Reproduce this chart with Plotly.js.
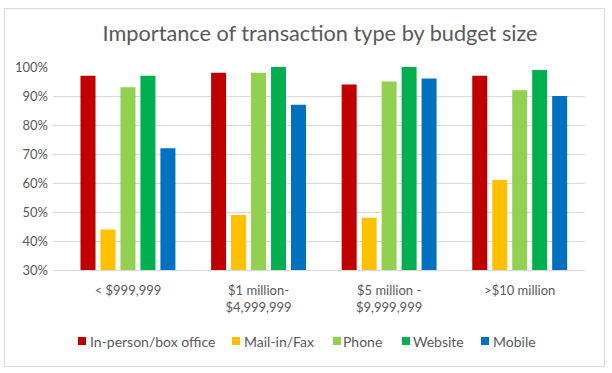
<!DOCTYPE html>
<html>
<head>
<meta charset="utf-8">
<script src="https://cdn.plot.ly/plotly-3.0.1.min.js"></script>
<style>
  html, body { margin: 0; padding: 0; background: #fff; }
  #wrap { position: relative; width: 612px; height: 373px; }
  #chart { width: 612px; height: 373px; }
  #frame { position: absolute; left: 4px; top: 8px; width: 599px; height: 357px;
           border: 1px solid #D9D9D9; pointer-events: none; }
</style>
</head>
<body>
<div id="wrap"><div id="chart"></div><div id="frame"></div></div>
<script>
const categories = ["< $999,999", "$1 million-<br>$4,999,999", "$5 million -<br>$9,999,999", ">$10 million"];
const seriesNames = ["In-person/box office", "Mail-in/Fax", "Phone", "Website", "Mobile"];
const inPerson = [0.97, 0.98, 0.94, 0.97];
const mailFax  = [0.44, 0.49, 0.48, 0.61];
const phone    = [0.93, 0.98, 0.95, 0.92];
const website  = [0.97, 1.00, 1.00, 0.99];
const mobile   = [0.72, 0.87, 0.96, 0.90];
const colors = ["#C00000", "#FFC000", "#92D050", "#00B050", "#0070C0"];
const yTickVals = [0.3, 0.4, 0.5, 0.6, 0.7, 0.8, 0.9, 1.0];

const seriesValues = [inPerson, mailFax, phone, website, mobile];
const font = "Lato, 'Open Sans', sans-serif";

// plot area in pixels (used to place the hand-built legend)
const plotL = 53, plotW = 532, plotT = 67, plotH = 203;
const legendSquarePx = [78, 232, 333, 402, 481];
const legendTextPx = [90, 244, 343, 413, 493];
const legendYPx = 341, squareSize = 8;

const px2x = p => (p - plotL) / plotW;
const px2y = p => (plotT + plotH - p) / plotH;

const data = seriesValues.map((vals, i) => ({
  type: "bar",
  name: seriesNames[i],
  x: categories,
  y: vals,
  marker: { color: colors[i] },
  hoverinfo: "none",
  showlegend: false
}));

const annotations = seriesNames.map((name, i) => ({
  xref: "paper", yref: "paper",
  x: px2x(legendTextPx[i] - 2),
  y: px2y(legendYPx),
  xanchor: "left", yanchor: "middle",
  showarrow: false,
  align: "left",
  text: name,
  font: { family: font, size: 14, color: "#595959" }
}));

const shapes = seriesNames.map((name, i) => ({
  type: "rect",
  xref: "paper", yref: "paper",
  x0: px2x(legendSquarePx[i]), x1: px2x(legendSquarePx[i] + squareSize),
  y0: px2y(legendYPx - squareSize / 2), y1: px2y(legendYPx + squareSize / 2),
  fillcolor: colors[i],
  line: { width: 0 }
}));

const layout = {
  width: 612, height: 373,
  margin: { l: 53, r: 27, t: 67, b: 103 },
  paper_bgcolor: "#FFFFFF",
  plot_bgcolor: "#FFFFFF",
  barmode: "group",
  bargap: 0.235,
  bargroupgap: 0.25,
  showlegend: false,
  title: {
    text: "Importance of transaction type by budget size",
    font: { family: font, size: 21.7, color: "#595959" },
    x: 0.502, xanchor: "center", xref: "paper",
    y: 0.91, yanchor: "middle", yref: "container"
  },
  font: { family: font, size: 13, color: "#595959" },
  xaxis: {
    type: "category",
    range: [-0.574, 3.5],
    showgrid: false,
    zeroline: false,
    showline: true,
    linecolor: "#D9D9D9",
    linewidth: 1,
    ticks: "",
    tickfont: { family: font, size: 13, color: "#595959" },
    ticklabelstandoff: 8
  },
  yaxis: {
    range: [0.3, 1.0],
    tickvals: yTickVals,
    tickformat: ".0%",
    showgrid: true,
    gridcolor: "#D9D9D9",
    gridwidth: 1,
    zeroline: false,
    showline: false,
    ticks: "",
    tickfont: { family: font, size: 13, color: "#595959" },
    ticklabelstandoff: 4
  },
  annotations: annotations,
  shapes: shapes
};

Plotly.newPlot("chart", data, layout, { displayModeBar: false, staticPlot: true });
</script>
</body>
</html>
